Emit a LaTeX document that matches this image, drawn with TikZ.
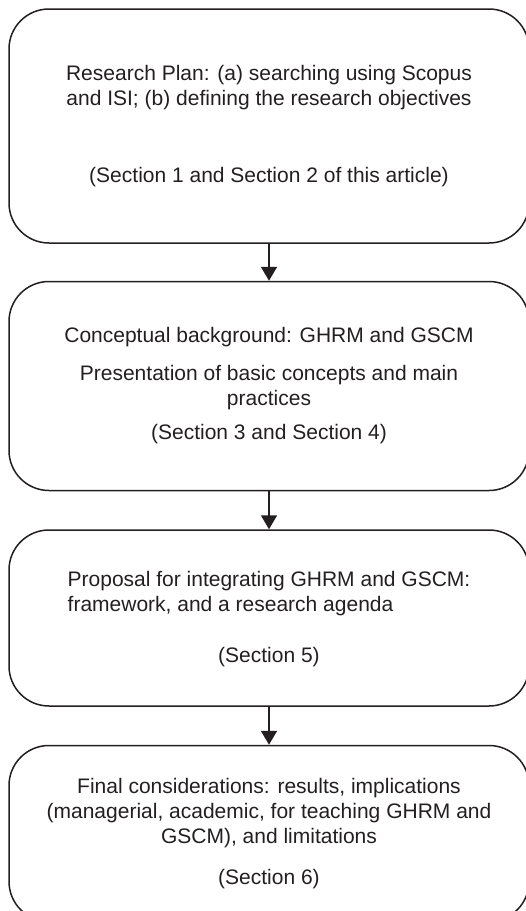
\documentclass[tikz,border=0pt]{standalone}
\usepackage{fontspec}
\setmainfont{Liberation Sans}
\usetikzlibrary{positioning,arrows.meta}
\definecolor{ink}{HTML}{231F20}

\tikzset{
  stagebox/.style={draw=ink, line width=1.5pt, rounded corners=40pt, inner sep=0pt,
    minimum width=520pt, align=center, text=ink,
    font=\fontsize{21}{25}\selectfont},
  flowarrow/.style={draw=ink, line width=1.8pt, -{Triangle[width=16pt,length=14pt]}}
}

\begin{document}
\begin{tikzpicture}[x=1pt, y=-1pt]
    \useasboundingbox (0, 0) rectangle (526, 911);

    \node[stagebox, minimum height=234pt] (plan) at (269, 126)
      {Research Plan: (a) searching using Scopus\\
       and ISI; (b) defining the research objectives\\[52pt]
       (Section 1 and Section 2 of this article)};
    \node[stagebox, minimum height=209pt, below=37pt of plan] (concepts)
      {Conceptual background: GHRM and GSCM\\[13pt]
       Presentation of basic concepts and main\\
       practices\\[9pt]
       (Section 3 and Section 4)};
    \node[stagebox, minimum height=176pt, below=38pt of concepts] (proposal)
      {\begin{tabular}{@{}l@{}}Proposal for integrating GHRM and GSCM:\\
       framework, and a research agenda\end{tabular}\\[28pt]
       (Section 5)};
    \node[stagebox, minimum height=176pt, below=38pt of proposal] (final)
      {Final considerations: results, implications\\
       (managerial, academic, for teaching GHRM and\\
       GSCM), and limitations\\[16pt]
       (Section 6)};

    \draw[flowarrow] (plan) -- (concepts);
    \draw[flowarrow] (concepts) -- (proposal);
    \draw[flowarrow] (proposal) -- (final);
\end{tikzpicture}
\end{document}
